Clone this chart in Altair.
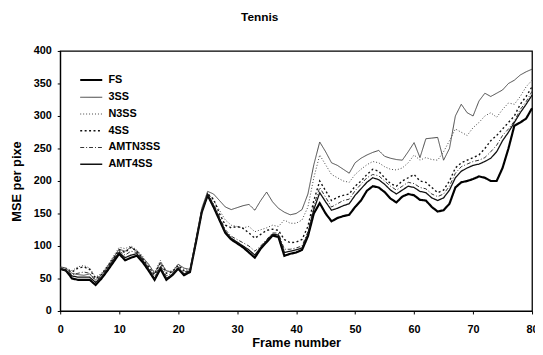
import altair as alt
import pandas as pd

frames = list(range(81))

FS = [65, 62, 50, 48, 48, 48, 40, 50, 62, 75,
      88, 78, 82, 85, 75, 62, 48, 65, 48, 55,
      65, 55, 60, 105, 152, 178, 160, 140, 120, 110,
      104, 98, 90, 82, 96, 106, 116, 114, 85, 88,
      90, 94, 115, 150, 166, 150, 138, 143, 146, 148,
      160, 170, 185, 192, 190, 183, 173, 167, 176, 180,
      178, 171, 170, 160, 153, 155, 165, 190, 198, 200,
      203, 207, 205, 200, 200, 220, 250, 285, 290, 296, 312]

S3SS = [68, 66, 58, 56, 55, 57, 48, 56, 68, 82,
        95, 92, 98, 92, 82, 72, 58, 75, 62, 60,
        72, 66, 64, 110, 158, 184, 180, 170, 160, 156,
        159, 162, 164, 155, 170, 183, 168, 158, 152, 148,
        150, 156, 180, 225, 260, 245, 228, 224, 218, 212,
        228, 235, 240, 244, 247, 238, 235, 233, 232, 245,
        259, 236, 265, 266, 267, 232, 250, 300, 318, 305,
        300, 323, 335, 330, 335, 340, 350, 355, 363, 368, 372]

N3SS = [67, 66, 62, 68, 70, 66, 52, 58, 70, 84,
        98, 96, 100, 94, 84, 70, 60, 78, 60, 62,
        72, 64, 62, 108, 155, 182, 170, 155, 140, 132,
        130, 128, 130, 122, 125, 128, 132, 130, 140, 135,
        135, 140, 160, 205, 240, 225, 210, 205, 200, 198,
        210, 218, 225, 230, 228, 222, 218, 217, 220, 228,
        240, 232, 236, 233, 232, 245, 262, 280, 275, 270,
        282, 290, 300, 305, 298, 310, 320, 318, 330, 345, 355]

S4SS = [66, 64, 60, 66, 68, 64, 50, 56, 68, 80,
        94, 90, 98, 92, 80, 68, 56, 74, 58, 60,
        70, 62, 60, 106, 153, 180, 172, 150, 132, 128,
        130, 127, 120, 112, 118, 124, 126, 124, 110, 105,
        106, 110, 130, 170, 200, 185, 170, 175, 178, 180,
        192, 200, 210, 218, 215, 205, 196, 192, 200, 205,
        210, 200, 198, 190, 182, 186, 200, 220, 228, 232,
        236, 240, 250, 262, 270, 280, 290, 300, 318, 330, 345]

AMTN3SS = [66, 63, 56, 58, 60, 58, 46, 54, 66, 80,
           92, 86, 92, 90, 80, 66, 54, 70, 54, 58,
           68, 60, 62, 106, 154, 180, 165, 145, 125, 115,
           110, 105, 100, 92, 100, 110, 120, 120, 95, 95,
           97, 100, 122, 162, 190, 175, 160, 165, 170, 172,
           185, 195, 205, 210, 208, 200, 192, 186, 192, 198,
           196, 190, 188, 180, 176, 180, 192, 212, 222, 226,
           230, 232, 236, 245, 255, 270, 280, 292, 310, 322, 338]

AMT4SS = [65, 62, 54, 52, 52, 52, 44, 52, 64, 78,
          90, 82, 86, 88, 78, 64, 50, 67, 50, 56,
          66, 57, 61, 106, 153, 179, 162, 142, 122, 112,
          106, 100, 94, 86, 98, 108, 118, 117, 90, 92,
          94, 97, 118, 156, 182, 168, 155, 158, 162, 165,
          178, 188, 198, 205, 202, 195, 186, 180, 186, 192,
          190, 184, 182, 174, 170, 174, 186, 205, 215, 220,
          224, 226, 230, 235, 245, 262, 275, 290, 305, 318, 332]

series_names = ["FS", "3SS", "N3SS", "4SS", "AMTN3SS", "AMT4SS"]
series_values = [FS, S3SS, N3SS, S4SS, AMTN3SS, AMT4SS]
x_ticks = [0, 10, 20, 30, 40, 50, 60, 70, 80]
y_ticks = [0, 50, 100, 150, 200, 250, 300, 350, 400]

rows = []
for name, vals in zip(series_names, series_values):
    for f, v in zip(frames, vals):
        rows.append({"frame": f, "mse": v, "series": name})
df = pd.DataFrame(rows)

FONT = "Liberation Sans"
dash_range = [[1, 0], [1, 0], [1, 2], [2, 2.5], [4, 2, 1, 2], [1, 0]]
width_range = [2.2, 0.9, 1.0, 1.4, 1.0, 1.3]
color_range = ["#000000", "#333333", "#444444", "#111111", "#333333", "#111111"]

leg = alt.Legend(
    title=None, orient="none", legendX=19, legendY=17,
    symbolType="stroke", symbolSize=500,
    labelFont=FONT, labelFontSize=11, labelFontWeight="bold", labelColor="black",
    rowPadding=-4, labelOffset=5,
)

chart = alt.Chart(df).mark_line().encode(
    x=alt.X("frame:Q", scale=alt.Scale(domain=[0, 80], nice=False),
            axis=alt.Axis(values=x_ticks, title="Frame number", grid=False,
                          labelFont=FONT, labelFontSize=11, labelFontWeight="bold",
                          labelColor="black", labelPadding=10, tickSize=3,
                          tickColor="black", domainColor="black",
                          titleFont=FONT, titleFontSize=13, titleFontWeight="bold",
                          titleColor="black", titlePadding=2, labelFlush=False)),
    y=alt.Y("mse:Q", scale=alt.Scale(domain=[0, 400], nice=False),
            axis=alt.Axis(values=y_ticks, title="MSE per pixe", grid=False,
                          labelFont=FONT, labelFontSize=11, labelFontWeight="bold",
                          labelColor="black", labelPadding=6, tickSize=3,
                          tickColor="black", domainColor="black",
                          titleFont=FONT, titleFontSize=13, titleFontWeight="bold",
                          titleColor="black", titlePadding=10)),
    color=alt.Color("series:N", scale=alt.Scale(domain=series_names, range=color_range), legend=leg),
    strokeDash=alt.StrokeDash("series:N", scale=alt.Scale(domain=series_names, range=dash_range), legend=leg),
    strokeWidth=alt.StrokeWidth("series:N", scale=alt.Scale(type="ordinal", domain=series_names, range=width_range), legend=leg),
).properties(
    width=479, height=264,
    title=alt.TitleParams("Tennis", font=FONT, fontSize=12, fontWeight="bold",
                          color="black", anchor="middle", dx=-37, offset=21),
    autosize=alt.AutoSizeParams(type="none"),
    padding={"left": 53, "top": 41, "right": 3, "bottom": 40},
).configure_view(stroke="black", strokeWidth=1.3)

chart.save("out.html", embed_options={"renderer": "svg", "actions": False})
